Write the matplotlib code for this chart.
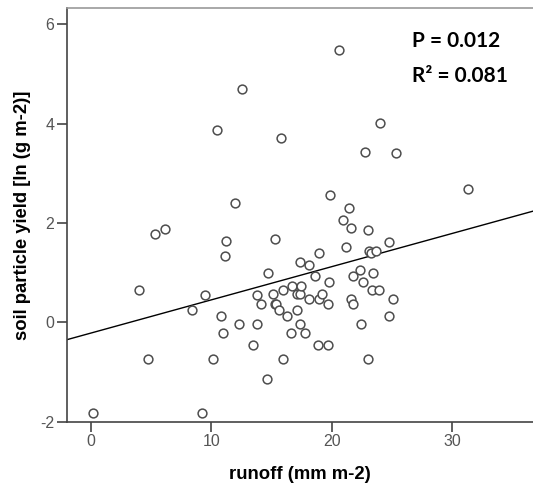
import numpy as np
import matplotlib
matplotlib.use('Agg')
import matplotlib.pyplot as plt

plt.rcParams['axes.unicode_minus'] = False

# runoff (mm m-2) and soil particle yield [ln (g m-2)]
runoff = [0.14, 3.95, 4.76, 5.3, 6.1, 8.4, 9.18, 9.5, 10.12, 10.48,
          10.78, 10.97, 11.09, 11.2, 11.97, 12.3, 12.5, 13.45, 13.74, 13.82,
          14.07, 14.6, 14.68, 15.12, 15.25, 15.37, 15.3, 15.58, 15.76, 15.9,
          15.97, 16.3, 16.6, 16.72, 17.06, 17.14, 17.33, 17.33, 17.33, 17.4,
          17.73, 18.08, 18.1, 18.57, 18.85, 18.9, 18.92, 19.2, 19.65, 19.7,
          19.74, 19.85, 20.6, 20.9, 21.15, 21.4, 21.55, 21.6, 21.72, 21.76,
          22.36, 22.45, 22.59, 22.72, 22.98, 23.0, 23.05, 23.26, 23.36, 23.42,
          23.7, 23.92, 24.0, 24.7, 24.75, 25.05, 25.3, 31.34]
yield_ln = [-1.83, 0.65, -0.73, 1.78, 1.88, 0.25, -1.83, 0.56, -0.73, 3.87,
            0.12, -0.22, 1.34, 1.64, 2.41, -0.03, 4.70, -0.45, 0.56, -0.03,
            0.37, -1.14, 1.00, 0.57, 0.37, 0.37, 1.67, 0.25, 3.72, -0.73,
            0.65, 0.12, -0.22, 0.73, 0.57, 0.25, 0.57, 1.22, -0.03, 0.73,
            -0.22, 1.16, 0.48, 0.93, -0.45, 0.48, 1.39, 0.57, 0.37, -0.45,
            0.81, 2.57, 5.48, 2.06, 1.51, 2.31, 0.48, 1.91, 0.93, 0.37,
            1.06, -0.03, 0.81, 3.43, 1.85, -0.73, 1.43, 1.40, 0.65, 1.00,
            1.43, 0.65, 4.01, 1.61, 0.12, 0.48, 3.41, 2.68]
x_ticks = [0, 10, 20, 30]
y_ticks = [-2, 0, 2, 4, 6]
stats_text = ['P = 0.012', 'R\u00b2 = 0.081']

x = np.array(runoff)
y = np.array(yield_ln)
slope, intercept = np.polyfit(x, y, 1)

fig = plt.figure(figsize=(5.33, 4.84), dpi=100)
ax = fig.add_axes([67 / 533, 1 - 421.7 / 484, 1 - 67 / 533, (421.7 - 8) / 484])

ax.scatter(x, y, s=40, facecolors='white', edgecolors='#4d4d4d', linewidths=1.1, zorder=3)

xlim = (-2, 36.7)
xs = np.array(xlim)
ax.plot(xs, intercept + slope * xs, color='black', lw=1.0, zorder=2)

ax.set_xlim(*xlim)
ax.set_ylim(-2, 6.33)
ax.set_xticks(x_ticks)
ax.set_yticks(y_ticks)

for side in ['left', 'bottom']:
    ax.spines[side].set_color('#444444')
    ax.spines[side].set_linewidth(1.2)
ax.spines['top'].set_color('#999999')
ax.spines['top'].set_linewidth(1.2)
ax.spines['right'].set_visible(False)

ax.tick_params(length=7, width=1.2, color='#444444', labelcolor='#555555',
               labelsize=11.5, pad=2)
for lab in ax.get_xticklabels() + ax.get_yticklabels():
    lab.set_family('Liberation Sans')

ax.set_xlabel('runoff (mm m-2)', fontsize=13.3, fontweight='bold',
              family='Liberation Sans', labelpad=12)
ax.set_ylabel('soil particle yield [ln (g m-2)]', fontsize=13.3, fontweight='bold',
              family='Liberation Sans')
ax.yaxis.set_label_coords(-36 / 466, 0.5)

ax.text(0.74, 0.92, stats_text[0], transform=ax.transAxes, fontsize=15,
        fontweight='bold', family='Lato', va='center', ha='left')
ax.text(0.74, 0.835, stats_text[1], transform=ax.transAxes, fontsize=15,
        fontweight='bold', family='Lato', va='center', ha='left')

fig.savefig('out.png', dpi=100)
